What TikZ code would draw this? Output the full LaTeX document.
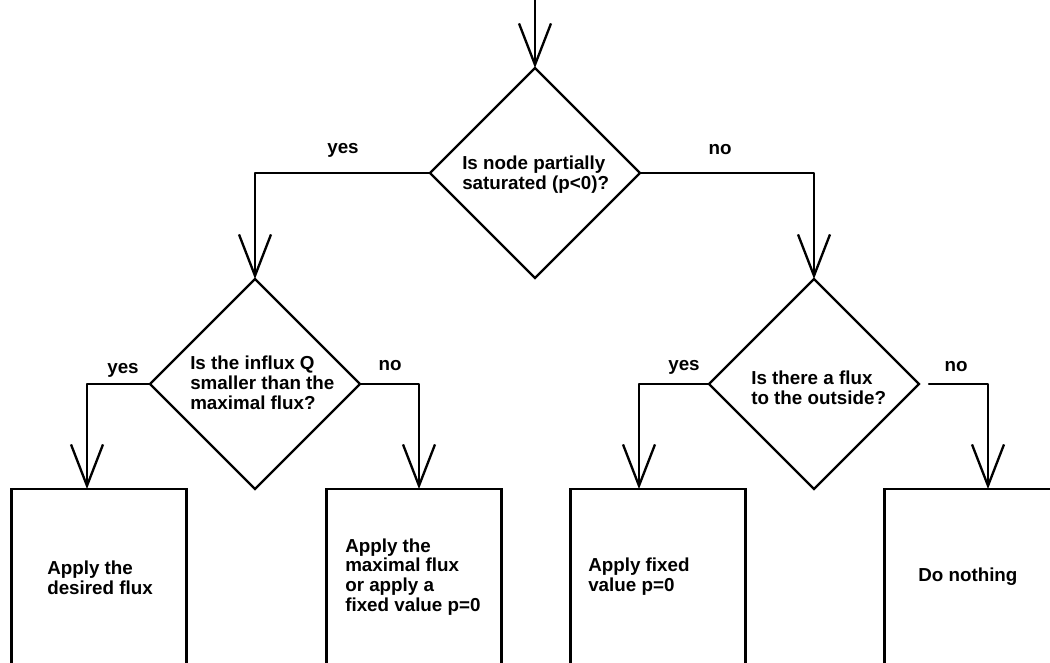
\documentclass[tikz,border=0pt]{standalone}
\usepackage{fontspec}
\setmainfont{Liberation Sans}
\usetikzlibrary{arrows.meta,shapes.geometric}
\begin{document}
\begin{tikzpicture}[x=0.75pt,y=-0.75pt,
  every node/.style={font=\bfseries\fontsize{14.1pt}{14.8pt}\selectfont},
  line/.style={line width=1.75pt, line join=round, line cap=round},
  flow/.style={line, -{Straight Barb[length=31pt,width=24pt,line width=1.75pt]}},
  decision/.style={draw, line width=1.75pt, diamond, aspect=1, inner sep=0pt,
    outer sep=0pt, minimum width=157.5pt, minimum height=157.5pt},
  action/.style={draw, line width=1.75pt, rectangle, inner sep=0pt, outer sep=0pt,
    minimum width=131.25pt, minimum height=132pt},
  txt/.style={align=left, inner sep=0pt, anchor=west},
  answer/.style={inner sep=0pt}
]
\useasboundingbox (0,0) rectangle (1050,663);
\clip (0,0) rectangle (1050,663);

% decisions
\node[decision] (q1) at (535,173) {};
\node[decision] (q2) at (255,384) {};
\node[decision] (q3) at (814,384) {};

% actions
\node[action] (a1) at (99,577) {};
\node[action] (a2) at (414,577) {};
\node[action] (a3) at (658,577) {};
\node[action] (a4) at (972,577) {};

% texts
\node[txt] (t1) at (462,175) {Is node partially\\saturated (p<0)?};
\node[txt] (t2) at (190,383) {Is the influx Q\\smaller than the\\maximal flux?};
\node[txt] (t3) at (751,388) {Is there a flux\\to the outside?};
\node[txt] (t4) at (47,578) {Apply the\\desired flux};
\node[txt] (t5) at (345,577) {Apply the\\maximal flux\\or apply a\\fixed value p=0};
\node[txt] (t6) at (588,577) {Apply fixed\\value p=0};
\node[txt] (t7) at (918,577) {Do nothing};

% answers
\node[answer] (y1) at (343,150) {yes};
\node[answer] (n1) at (720,150) {no};
\node[answer] (y2) at (123,370) {yes};
\node[answer] (n2) at (390,366) {no};
\node[answer] (y3) at (684,367) {yes};
\node[answer] (n3) at (956,367) {no};

% connectors
\coordinate (start) at (535,0);
\draw[flow] (start) -- (q1.north);
\draw[flow] (q1.west) -| (q2.north);
\draw[flow] (q1.east) -| (q3.north);
\draw[flow] (q2.west) -| ([xshift=-9pt]a1.north);
\draw[flow] (q2.east) -| ([xshift=3.75pt]a2.north);
\draw[flow] (q3.west) -| ([xshift=-14.25pt]a3.north);
\draw[flow, shorten <=7.5pt] (q3.east) -| ([xshift=12pt]a4.north);
\end{tikzpicture}
\end{document}
